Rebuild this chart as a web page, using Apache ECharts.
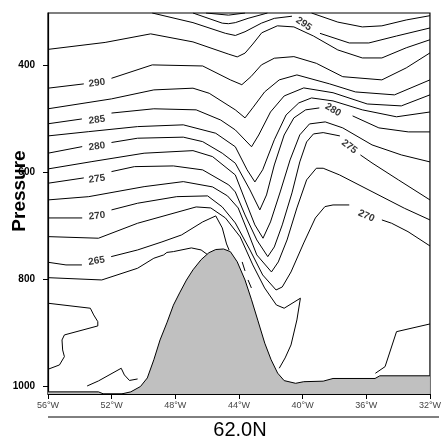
<!DOCTYPE html>
<html><head><meta charset="utf-8">
<script src="https://cdn.jsdelivr.net/npm/echarts@6/dist/echarts.min.js"></script>
<style>html,body{margin:0;padding:0;background:#fff}#c{width:444px;height:442px}</style>
</head><body><div id="c"></div>
<script>
// Potential temperature contours, points are [longitude (deg E), pressure (hPa)]
const theta300   = [[-46.07,303],[-44.66,307],[-43.62,303]];
const theta2975a = [[-46.89,303],[-45.05,322],[-44.66,323],[-44.23,321],[-43.43,313],[-42.21,303]];
const theta2975b = [[-39.44,303],[-37.79,320],[-36.25,329],[-35.02,327],[-33.49,316],[-32,308]];
const theta295a  = [[-49.45,303],[-46.89,321],[-44.85,341],[-44.23,345],[-43.62,338],[-42.59,322],[-41.78,313],[-40.67,309]];
const theta295b  = [[-38.91,341],[-37.07,359],[-35.84,359],[-34.10,346],[-32,331]];
const theta2925  = [[-56,371],[-52.41,358],[-49.55,342],[-46.89,357],[-44.64,380],[-44.11,385],[-43.62,378],[-43.13,361],[-42.57,340],[-41.59,327],[-40.55,329],[-39.32,346],[-37.79,372],[-36.25,387],[-35.02,387],[-33.49,368],[-32,353]];
const theta290a  = [[-56,443.5],[-53.75,435.5]];
const theta290b  = [[-52.01,425],[-49.45,400],[-46.28,402],[-44.54,428],[-43.82,437],[-43.25,422],[-42.59,400],[-41.78,387.5],[-40.55,384.5],[-39.14,397],[-37.48,422],[-35.02,428],[-33.49,405.6],[-32,377.6]];
const theta2875  = [[-56,482],[-52.01,463.5],[-49.35,446.7],[-46.89,443.5],[-45.87,453],[-44.23,484],[-43.62,499],[-43.13,480],[-42.39,450.5],[-41.47,428],[-40.36,418.7],[-38.30,435.5],[-36.68,450.5],[-34.23,456],[-32,428]];
const theta285a  = [[-56,510],[-53.87,501]];
const theta285b  = [[-52.01,490],[-49.35,482],[-46.69,484],[-45.15,503],[-44.23,521.5],[-43.21,553],[-42.76,531],[-42.02,488],[-41.16,458],[-39.93,443],[-38.09,452],[-35.94,473],[-33.80,476.6],[-32,456]];
const theta2825  = [[-56,532.7],[-53.44,524.7],[-50.37,515.3],[-47.50,512],[-45.46,527.7],[-44.23,553],[-43.49,596],[-43.00,618.7],[-42.51,596],[-41.78,540],[-41.04,493.5],[-40.24,471],[-39.44,461.7],[-38.09,467.3],[-36.25,484],[-34.10,497],[-32,488]];
const theta280a  = [[-56,565],[-53.85,552.7]];
const theta280b  = [[-52.01,545],[-50.37,537],[-47.50,535],[-46.28,543.4],[-45.05,565],[-44.23,583.7],[-43.31,633.6],[-42.69,671],[-42.27,643],[-41.78,587],[-41.16,531],[-40.55,499],[-39.81,484],[-38.95,480.4]];
const theta280c  = [[-36.86,495.3],[-35.21,517.7],[-33.36,525.2],[-32,525.2]];
const theta2775  = [[-56,594.4],[-53.24,580.7],[-49.96,565],[-46.89,560.2],[-45.66,571.4],[-44.23,605.6],[-43.62,652.3],[-43.00,699],[-42.49,723.9],[-42.02,693.4],[-41.41,637.4],[-40.79,577.6],[-40.18,530.8],[-39.57,510.3],[-38.58,506.5],[-37.48,517.7],[-35.64,549.5],[-33.80,568.2],[-32,581.3]];
const theta275a  = [[-56,621.1],[-53.75,611.2]];
const theta275b  = [[-52.01,599.4],[-50.57,590.1],[-48.12,588.8],[-46.28,596.2],[-44.64,624.3],[-44.23,637.4],[-43.62,680.4],[-42.88,727.1],[-42.19,758.3],[-41.78,740.2],[-41.28,699],[-40.67,639.2],[-40.18,581.3],[-39.75,543.9],[-39.32,529],[-38.71,526.5],[-37.66,532.7]];
const theta275c  = [[-36.37,568.2],[-35.64,583.2],[-33.98,614.9],[-32,652.3]];
const theta2725  = [[-56,652.3],[-53.44,646.2],[-49.96,627.5],[-47.50,618.1],[-45.66,628],[-44.72,644.8],[-44.05,667.3],[-43.49,708.5],[-42.88,755.1],[-41.96,786.9],[-41.53,768.2],[-40.98,727.1],[-40.36,667.3],[-39.75,614.9],[-39.14,593.1],[-38.71,593.1],[-37.68,605.6],[-35.64,636.8],[-33.61,667.8],[-32,689.7]];
const theta270a  = [[-56,686],[-53.85,686]];
const theta270b  = [[-52.01,671],[-50.37,658.5],[-47.91,646.2],[-45.97,644.8],[-45.05,665.4],[-44.23,695.3],[-43.31,745.8],[-42.51,792.5],[-41.67,820.6],[-41.28,815],[-40.73,786.9],[-39.93,732.7],[-39.20,686],[-38.60,664.8],[-38.09,661.7],[-37.07,661.7]];
const theta270c  = [[-35.02,689.7],[-34.41,695.9],[-33.38,711.6],[-32,738.3]];
const theta2675a = [[-56,720.9],[-52.83,723.9],[-50.37,695.9],[-46.69,665.4],[-45.77,667.3],[-44.85,686],[-43.92,721.5],[-43.13,773.8],[-42.39,816.8],[-41.65,848.6],[-41.16,854.7],[-40.14,836],[-40.36,876.6],[-40.73,923.3],[-41.10,947.6],[-41.47,966.9]];
const theta2675b = [[-32,884.1],[-34.10,898.5],[-34.82,963.9],[-35.43,976.3]];
const theta265a  = [[-56,768.8],[-54.87,773.8],[-53.87,773.8]];
const theta265b  = [[-52.03,758.3],[-50.37,745.8],[-48.84,730.8],[-47.61,717.8],[-46.28,693.4],[-45.46,682.2],[-45.05,704.6],[-44.78,734.6],[-44.62,746]];
const theta265c  = [[-43.80,768.2],[-43.62,785]];
const theta265d  = [[-43.43,801.9],[-43.22,816.8]];
const theta2625  = [[-56,797.6],[-52.62,801.9],[-50.37,780],[-49.35,761.3],[-48.73,755.1],[-48.53,750.4],[-48.12,748.9],[-46.99,742],[-46.38,745.8],[-45.95,755.1]];
const theta260a  = [[-56,845.4],[-53.34,854.7],[-53.13,867.2],[-52.87,879.8],[-52.87,887.8],[-54.97,904.6],[-55.12,914],[-55.08,932.7],[-54.97,945.2],[-55.28,960.7],[-56,968.8]];
const theta260b  = [[-53.54,1000],[-52.83,990.6],[-51.40,966.9],[-51.20,979.4],[-50.88,989.7],[-50.37,986.9]];

// Terrain (surface pressure along 62.0N)
const terrainLon = [-56,-52.83,-52.5,-51.4,-50.8,-50.19,-49.76,-49.35,-48.96,-48.53,-48.12,-47.73,-47.30,-46.89,-46.38,-45.89,-45.46,-44.97,-44.54,-44.11,-43.62,-43.21,-42.82,-42.38,-41.98,-41.57,-41.16,-40.44,-39.93,-38.71,-38.09,-35.45,-35.15,-32];
const terrainP   = [1011,1011,1015,1015,1011,1001,985,951,914,882,849,826,802,783,764,751,745,744,749,768,802,839,877,920,951,976,990,995,992,991,986,986,981,981];

// Contour labels
const labelText = ['290','285','280','275','270','265','295','280','275','270'];
const labelLon  = [-52.92,-52.92,-52.92,-52.92,-52.92,-52.95,-39.93,-38.09,-37.07,-36.0];
const labelP    = [433.6,502.8,552.3,613.1,682.2,766.3,323.4,484.1,552.7,682.2];
const labelAngle = [7,7,7,7,6,9,-35,-30,-38,-25];

// Axis ticks
const pressureTicks = [400,600,800,1000];
const lonMin = -56, lonMax = -32, lonStep = 4;
const pMin = 303, pMax = 1015;

const contours = [theta300,theta2975a,theta2975b,theta295a,theta295b,theta2925,theta290a,theta290b,theta2875,
  theta285a,theta285b,theta2825,theta280a,theta280b,theta280c,theta2775,theta275a,theta275b,theta275c,theta2725,
  theta270a,theta270b,theta270c,theta2675a,theta2675b,theta265a,theta265b,theta265c,theta265d,theta2625,theta260a,theta260b];

const FONT = '"Liberation Sans", Arial, Helvetica, sans-serif';
const chart = echarts.init(document.getElementById('c'), null, {renderer:'canvas'});

const series = contours.map(seg => ({
  type:'line', data: seg, symbol:'none', silent:true, z:2,
  lineStyle:{color:'#000', width:1}
}));
series.push({
  type:'line', data: terrainLon.map((l,i)=>[l, terrainP[i]]), symbol:'none', silent:true, z:5,
  lineStyle:{color:'#000', width:1},
  areaStyle:{color:'#c0c0c0', opacity:1, origin:'end'}
});
series.push({
  type:'scatter', symbolSize:0, silent:true, z:8,
  data: labelText.map((t,i)=>({value:[labelLon[i], labelP[i]], name:t,
    label:{rotate: labelAngle[i]}})),
  label:{show:true, position:'inside', formatter: p => p.name, color:'#000',
    fontFamily: FONT, fontSize:10, fontWeight:'bold'}
});

chart.setOption({
  animation:false,
  backgroundColor:'#fff',
  grid:{left:48, right:5, top:13, bottom:48, show:true, borderColor:'#000', borderWidth:1.2, backgroundColor:'transparent'},
  xAxis:{type:'value', min:lonMin, max:lonMax, interval:lonStep,
    axisLine:{lineStyle:{color:'#000', width:1.2}},
    axisTick:{show:true, length:5, lineStyle:{color:'#000'}},
    axisLabel:{margin:7, color:'#444', fontSize:9, fontFamily:FONT, formatter: v => (-v) + '\u00b0W'},
    splitLine:{show:false}},
  yAxis:{type:'value', inverse:true, min:pMin, max:pMax,
    axisLine:{show:true, lineStyle:{color:'#000', width:1.2}},
    axisTick:{show:true, length:5, customValues: pressureTicks, lineStyle:{color:'#000'}},
    axisLabel:{margin:13, color:'#000', fontSize:10, fontWeight:'bold', fontFamily:FONT, customValues: pressureTicks,
      formatter: v => String(v)},
    splitLine:{show:false}},
  graphic:[
    {type:'text', x:20, y:191, rotation:Math.PI/2, z:20,
      style:{text:'Pressure', font:'bold 19px ' + FONT, fill:'#000', align:'center', verticalAlign:'middle', textAlign:'center', textVerticalAlign:'middle'}},
    {type:'line', shape:{x1:48, y1:417, x2:439, y2:417}, style:{stroke:'#000', lineWidth:1}},
    {type:'text', x:240, y:430, z:20,
      style:{text:'62.0N', font:'20px ' + FONT, fill:'#000', align:'center', verticalAlign:'middle', textAlign:'center', textVerticalAlign:'middle'}}
  ],
  series: series
});
</script>
</body></html>
